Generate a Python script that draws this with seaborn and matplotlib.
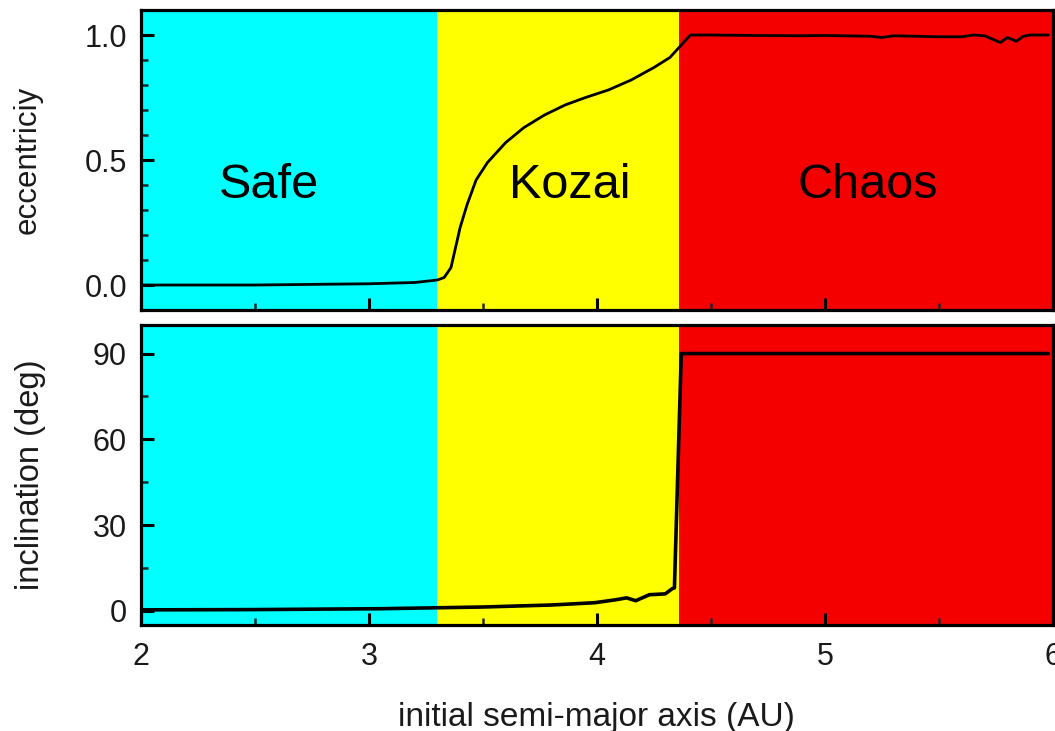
import numpy as np
import pandas as pd
import matplotlib
matplotlib.use("Agg")
import matplotlib.pyplot as plt
import seaborn as sns
from matplotlib.ticker import MultipleLocator

# ---- data ----
ecc_a = [2.0, 2.5, 3.0, 3.2, 3.3, 3.33, 3.36, 3.38, 3.40, 3.43, 3.47, 3.52, 3.60, 3.68,
         3.77, 3.86, 3.95, 4.05, 4.15, 4.25, 4.32, 4.37, 4.41, 4.5, 4.7, 4.9, 5.0, 5.2,
         5.25, 5.3, 5.5, 5.6, 5.65, 5.7, 5.77, 5.8, 5.84, 5.87, 5.9, 5.98]
ecc_e = [0.0, 0.0, 0.005, 0.01, 0.02, 0.03, 0.07, 0.15, 0.23, 0.32, 0.42, 0.49, 0.57, 0.63,
         0.68, 0.72, 0.75, 0.78, 0.82, 0.87, 0.91, 0.96, 1.0, 1.0, 0.998, 0.997, 0.998, 0.995,
         0.99, 0.997, 0.993, 0.993, 1.0, 0.997, 0.97, 0.99, 0.975, 0.995, 1.0, 1.0]

inc_a = [2.0, 2.5, 3.05, 3.5, 3.8, 3.99, 4.08, 4.13, 4.17, 4.23, 4.30, 4.33, 4.34, 4.37, 5.0, 5.98]
inc_i = [0.3, 0.4, 0.7, 1.3, 2.0, 2.8, 3.8, 4.5, 3.5, 5.6, 5.9, 7.7, 8.0, 90.0, 90.0, 90.0]

region_names = ["Safe", "Kozai", "Chaos"]
region_edges = [2.0, 3.3, 4.36, 6.0]
region_colors = ["#00FFFF", "#FFFF00", "#F50000"]

ecc_df = pd.DataFrame({"a": ecc_a, "e": ecc_e})
inc_df = pd.DataFrame({"a": inc_a, "i": inc_i})

sns.set_theme(style="ticks")
plt.rcParams["font.family"] = ["Liberation Sans", "DejaVu Sans"]

fig = plt.figure(figsize=(10.55, 7.31), dpi=100)
ax1 = fig.add_axes([0.1336, 0.5759, 0.8644, 0.4104])
ax2 = fig.add_axes([0.1336, 0.145, 0.8644, 0.4104])

for ax in (ax1, ax2):
    for k, name in enumerate(region_names):
        ax.axvspan(region_edges[k], region_edges[k + 1], color=region_colors[k], lw=0, zorder=0)

sns.lineplot(data=ecc_df, x="a", y="e", ax=ax1, color="black", lw=2.0, zorder=3)
sns.lineplot(data=inc_df, x="a", y="i", ax=ax2, color="black", lw=2.6, zorder=3)

label_x = [2.56, 3.88, 5.19]
for name, xc in zip(region_names, label_x):
    ax1.text(xc, 0.347, name, fontsize=35, ha="center", va="baseline", color="black")

ax1.set_xlim(2, 6)
ax2.set_xlim(2, 6)
ax1.set_ylim(-0.1, 1.1)
ax2.set_ylim(-5, 100)

ax1.yaxis.set_major_locator(MultipleLocator(0.5))
ax1.yaxis.set_minor_locator(MultipleLocator(0.1))
ax2.yaxis.set_major_locator(MultipleLocator(30))
ax2.yaxis.set_minor_locator(MultipleLocator(15))
for ax in (ax1, ax2):
    ax.xaxis.set_major_locator(MultipleLocator(1))
    ax.xaxis.set_minor_locator(MultipleLocator(0.5))
    ax.tick_params(which="major", direction="in", length=9, width=2.2, labelsize=22,
                   colors="black", labelcolor="#1a1a1a")
    ax.tick_params(which="minor", direction="in", length=5, width=1.8)
    for s in ax.spines.values():
        s.set_linewidth(2.3)
        s.set_color("black")
        s.set_zorder(5)

ax1.set_yticks([0.0, 0.5, 1.0])
ax1.set_yticklabels(["0.0", "0.5", "1.0"])
ax1.tick_params(axis="x", labelbottom=False)
ax1.set_xlabel("")
ax1.set_ylabel("eccentriciy", fontsize=22.5, color="#1a1a1a")
ax2.set_ylabel("inclination (deg)", fontsize=23.5, color="#1a1a1a")
ax2.set_xlabel("initial semi-major axis (AU)", fontsize=24, color="#1a1a1a")
ax1.yaxis.set_label_coords(-0.108, 0.5)
ax2.yaxis.set_label_coords(-0.104, 0.5)
ax2.xaxis.set_label_coords(0.5, -0.255)
ax2.tick_params(axis="x", pad=12)
ax1.tick_params(axis="y", pad=10)
ax2.tick_params(axis="y", pad=10)

fig.savefig("out.png", dpi=100, facecolor="white")
